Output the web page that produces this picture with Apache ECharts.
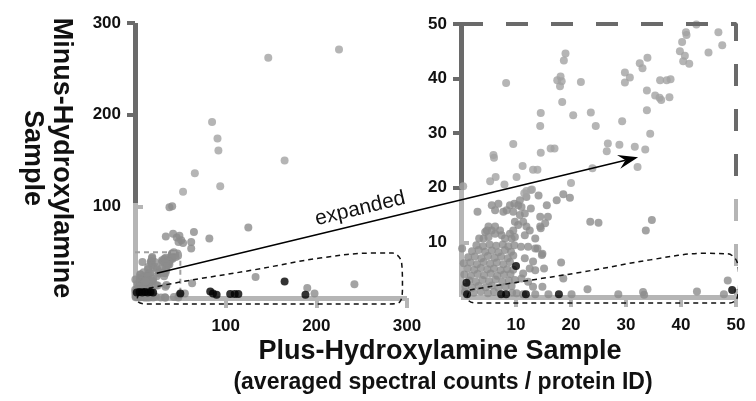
<!DOCTYPE html>
<html><head><meta charset="utf-8">
<script src="https://cdn.jsdelivr.net/npm/echarts@6/dist/echarts.min.js"></script>
<style>html,body{margin:0;padding:0;background:#fff}#c{width:756px;height:401px}</style>
</head><body><div id="c"></div>
<script>
// ---- tick labels ----
const leftTicks = [100, 200, 300];
const rightTicks = [10, 20, 30, 40, 50];

// ---- left panel (0-300) outer points ----
const leftLight = [[225,271],[147,262],[85,192],[91,174],[92,161],[165,150],[66,136],[94,122],[53,116]];
const leftMedium = [[38,99],[41,100],[125,77],[34,67],[42,70],[46,66],[49,68],[51,63],[48,61],[65,72],[62,61],[62,54],[82,65],[53,60],[133,23],[63,16],[190,11],[198,5],[242,15],[55,5]];
const leftBlack = [[2,6],[5,6.5],[8,6],[11,6.5],[14,6],[17,6.5],[20,6],[50,5],[83,7],[86,5],[90,3.5],[105,4.5],[110,4.5],[114,4.5],[165,18],[188,3.5]];

// ---- right panel (0-50) points ----
const rightLight = [[42.8,49.9],[46.8,48.5],[40.9,48.5],[41.0,48.0],[40.2,46.7],[45.0,44.8],[47.5,46.1],[39.8,45.0],[40.7,44.2],[40.4,43.2],[41.5,42.7],[33.9,43.8],[32.5,42.8],[33.0,41.9],[29.8,41.1],[30.7,40.2],[29.8,39.3],[21.8,39.4],[18.1,40.4],[18.3,39.5],[17.5,39.7],[18.0,38.6],[19.0,44.6],[18.7,43.3],[18.4,35.7],[20.4,33.3],[8.2,39.2],[36.2,39.7],[37.4,39.7],[38.1,39.9],[35.3,36.9],[36.1,36.5],[36.4,36.1],[37.9,36.6],[33.8,37.8],[33.8,34.2],[34.4,29.9],[29.3,32.2],[23.6,33.8],[24.5,31.3],[14.5,33.7],[14.4,31.3],[14.5,26.4],[16.3,27.2],[17.0,27.2],[9.5,28.0],[5.9,26.0],[6.0,25.5],[6.3,22.0],[5.3,21.2],[7.9,20.6],[10.1,22.0],[11.2,24.0],[13.1,23.3],[13.9,23.3],[12.9,19.7],[11.9,19.4],[20.0,20.9],[23.9,23.6],[26.7,28.1],[26.5,26.7],[28.8,27.9],[31.6,27.5],[33.5,27.0],[32.1,23.8],[0.4,20.3],[11.5,19.0],[12.7,19.6]];
const rightMedium = [[14.1,18.6],[15.6,16.8],[17.4,17.7],[18.6,18.8],[19.8,18.2],[3.0,15.6],[6.8,17.1],[5.6,16.8],[6.2,15.9],[7.7,15.6],[8.3,15.9],[8.9,16.8],[9.7,17.1],[10.4,16.8],[11.0,16.5],[11.6,15.3],[10.7,15.0],[9.5,15.6],[12.7,16.2],[14.4,14.7],[15.3,13.5],[15.8,14.7],[14.4,12.9],[14.5,12.6],[11.3,13.8],[11.9,12.9],[12.5,12.2],[11.6,11.3],[13.5,10.7],[9.8,13.8],[10.4,13.2],[9.5,12.2],[8.9,11.6],[9.8,11.0],[9.2,10.7],[5.0,12.9],[5.6,12.2],[4.4,11.9],[6.2,11.6],[5.0,11.0],[7.1,12.2],[7.4,11.3],[8.0,10.7],[4.1,10.7],[3.3,10.7],[6.2,12.9],[4.7,12.2],[0.2,8.9],[9.7,9.5],[10.9,9.2],[12.2,9.2],[13.5,8.9],[13.9,8.9],[14.8,7.9],[14.7,7.7],[11.6,7.1],[13.1,6.5],[12.5,5.2],[11.3,4.3],[15.1,5.2],[13.5,4.9],[18.2,6.3],[11.0,3.4],[12.2,2.8],[13.1,1.9],[14.8,1.9],[18.6,3.4],[23.0,1.4],[15.9,0.5],[20.1,0.5],[10.1,0.7],[11.3,0.5],[13.5,0.5],[28.6,0.5],[33.1,0.9],[33.3,0.4],[42.9,1.0],[47.8,0.5],[48.5,3.0],[23.5,13.8],[25.0,13.6],[34.7,14.1],[33.6,12.2],[10.7,17.7],[11.9,18.3]];
const rightBlob = [[0.7,0.9],[2.3,0.8],[3.6,1.0],[4.9,0.7],[6.0,0.9],[9.3,0.8],
 [0.8,1.9],[2.0,1.7],[3.2,2.0],[4.5,1.8],[5.6,2.1],[6.8,1.7],[8.1,1.9],[9.2,2.0],
 [1.5,3.0],[2.7,2.8],[3.9,3.1],[5.1,2.9],[6.3,3.2],[7.5,2.8],[8.7,3.0],[9.8,3.1],
 [0.6,4.1],[1.8,3.9],[3.0,4.2],[4.2,4.0],[5.4,4.3],[6.6,3.9],[7.8,4.1],[9.0,4.2],
 [1.2,5.2],[2.4,5.0],[3.6,5.3],[4.8,5.1],[6.0,5.2],[7.2,4.9],[8.4,5.1],[9.5,5.0],
 [0.5,6.2],[1.7,6.3],[2.9,6.0],[4.1,6.4],[5.3,6.1],[6.5,6.3],[7.7,6.0],[8.9,6.4],
 [1.3,7.3],[2.5,7.4],[3.7,7.1],[4.9,7.5],[6.1,7.2],[7.3,7.4],[8.5,7.1],[9.5,7.6],
 [2.0,8.4],[3.2,8.6],[4.4,8.3],[5.6,8.5],[6.8,8.2],[8.0,8.6],[9.1,8.3],
 [2.8,9.5],[4.0,9.3],[5.2,9.6],[6.4,9.4],[7.6,9.6],[8.6,9.3]];
const rightBlack = [[1.0,2.6],[1.1,0.5],[7.3,0.5],[8.2,0.5],[10.0,5.7],[11.8,0.5],[17.8,0.5],[49.3,1.3]];

// ---- annotation outlines (data coords) ----
const leftLasso = [[5.5,8.7],[49.6,17.4],[130,30.5],[204,43.6],[262,49],[284,49],[294,39],[295,12],[292,-4.4],[281,-6.5],[11,-6.5],[2.2,-2.2],[5.5,8.7]];
const rightLasso = [[1.6,1.3],[10.2,2.7],[22.2,4.6],[34.4,6.8],[44,8],[48.5,7.9],[50.2,6.4],[50.5,3.1],[50.2,-0.2],[48.9,-1.1],[2.5,-1.1],[1.1,-0.2],[1.6,1.3]];
const zoomBoxLeft = [[0,50],[50,50],[50,0]];
const zoomBoxRight = [[0,50],[50,50],[50,0]];
const arrowFrom = [24, 27];    // left panel data coords
const arrowTo = [32.2, 25.6];  // right panel data coords

const FONT = '"Liberation Sans", Arial, sans-serif';
const DARK = '#6a6a6a', LIGHT = '#b5b5b5', PT_LIGHT = '#a3a3a3', PT_MED = '#8c8c8c';
function grad(split) {
  return new echarts.graphic.LinearGradient(0, 0, 0, 1, [
    {offset: 0, color: DARK}, {offset: split, color: DARK},
    {offset: split, color: LIGHT}, {offset: 1, color: LIGHT}]);
}
const lab = {fontSize: 17, fontWeight: 'bold', color: '#111', fontFamily: FONT};
const chart = echarts.init(document.getElementById('c'));

function xAx(gi, max, interval, ticks) {
  return {gridIndex: gi, type: 'value', min: 0, max: max, interval: interval,
    splitLine: {show: false},
    axisLine: {onZero: false, lineStyle: {color: LIGHT, width: 5, cap: 'butt'}},
    axisTick: {customValues: ticks, length: 10, lineStyle: {color: LIGHT, width: 4}},
    axisLabel: Object.assign({customValues: ticks, margin: 20}, lab)};
}
function yAx(gi, max, interval, split, darkTicks, labels) {
  return {gridIndex: gi, type: 'value', min: 0, max: max, interval: interval,
    splitLine: {show: false},
    axisLine: {onZero: false, lineStyle: {color: grad(split), width: 5, cap: 'butt'}},
    axisTick: {customValues: darkTicks, length: 8, lineStyle: {color: DARK, width: 4}},
    axisLabel: Object.assign({customValues: labels, margin: 14}, lab)};
}
function yAxLight(gi, max, interval, ticks) {
  return {gridIndex: gi, type: 'value', min: 0, max: max, interval: interval,
    splitLine: {show: false}, axisLine: {show: false},
    axisTick: {customValues: ticks, length: 8, lineStyle: {color: LIGHT, width: 4}},
    axisLabel: {show: false}};
}
function sc(xi, yi, data, color, z) {
  return {type: 'scatter', xAxisIndex: xi, yAxisIndex: yi, data: data, symbolSize: 8,
    itemStyle: {color: color}, z: z || 3, silent: true};
}
function ln(xi, yi, data, style, smooth) {
  return {type: 'line', xAxisIndex: xi, yAxisIndex: yi, data: data, symbol: 'none',
    clip: false, smooth: smooth || false, lineStyle: style, z: 4, silent: true};
}

chart.setOption({
  animation: false,
  grid: [{left: 135, top: 23, width: 272, height: 275}, {left: 461, top: 24, width: 275, height: 273}],
  xAxis: [xAx(0, 300, 100, leftTicks), xAx(1, 50, 10, rightTicks)],
  yAxis: [yAx(0, 300, 100, 0.652, [200, 300], leftTicks), yAxLight(0, 300, 100, [100]),
          yAx(1, 50, 10, 0.606, [20, 30, 40, 50], rightTicks), yAxLight(1, 50, 10, [10])],
  series: [
    ln(0, 0, zoomBoxLeft, {color: '#a0a0a0', width: 2, type: [5, 4]}),
    sc(0, 0, rightLight.concat(rightMedium, rightBlob), PT_MED),
    sc(0, 0, leftMedium, PT_MED),
    sc(0, 0, leftLight, PT_LIGHT),
    sc(0, 0, leftBlack, '#000', 5),
    sc(1, 2, rightBlob, PT_MED),
    sc(1, 2, rightMedium, PT_MED),
    sc(1, 2, rightLight, PT_LIGHT),
    sc(1, 2, rightBlack, '#000', 5),
    ln(1, 2, zoomBoxRight, {color: grad(0.607), width: 4, type: [22, 23]}),
    ln(0, 0, leftLasso, {color: '#111', width: 1.5, type: [5, 4]}, 0.35),
    ln(1, 2, rightLasso, {color: '#111', width: 1.5, type: [5, 4]}, 0.35)
  ]
});

// arrow + label, positioned through the axes
const S = chart.convertToPixel({gridIndex: 0}, arrowFrom);
const E = chart.convertToPixel({gridIndex: 1}, arrowTo);
const dx = E[0] - S[0], dy = E[1] - S[1], L = Math.hypot(dx, dy);
const ux = dx / L, uy = dy / L, nx = -uy, ny = ux;
const head = [[E[0], E[1]],
  [E[0] - 20 * ux + 7 * nx, E[1] - 20 * uy + 7 * ny],
  [E[0] - 13 * ux, E[1] - 13 * uy],
  [E[0] - 20 * ux - 7 * nx, E[1] - 20 * uy - 7 * ny]];
const t = 0.43;
const P = [S[0] + t * dx + 15 * uy, S[1] + t * dy - 15 * ux];
chart.setOption({
  graphic: [
    {type: 'line', shape: {x1: S[0], y1: S[1], x2: E[0] - 13 * ux, y2: E[1] - 13 * uy}, style: {stroke: '#000', lineWidth: 1.5}, z: 10},
    {type: 'polygon', shape: {points: head}, style: {fill: '#000'}, z: 10},
    {type: 'text', x: P[0], y: P[1], rotation: Math.atan2(-dy, dx), z: 10,
      style: {text: 'expanded', font: '21px ' + FONT, fill: '#111', align: 'center', verticalAlign: 'middle', textAlign: 'center', textVerticalAlign: 'middle'}},
    {type: 'text', x: 47, y: 158, rotation: -Math.PI / 2, z: 10,
      style: {text: 'Minus-Hydroxylamine\nSample', font: 'bold 27px ' + FONT, lineHeight: 29, fill: '#111', align: 'center', verticalAlign: 'middle', textAlign: 'center', textVerticalAlign: 'middle'}},
    {type: 'text', x: 440, y: 352, z: 10,
      style: {text: 'Plus-Hydroxylamine Sample', font: 'bold 27px ' + FONT, fill: '#111', align: 'center', verticalAlign: 'middle', textAlign: 'center', textVerticalAlign: 'middle'}},
    {type: 'text', x: 443, y: 383, z: 10,
      style: {text: '(averaged spectral counts / protein ID)', font: 'bold 23px ' + FONT, fill: '#111', align: 'center', verticalAlign: 'middle', textAlign: 'center', textVerticalAlign: 'middle'}}
  ]
});
</script>
</body></html>
